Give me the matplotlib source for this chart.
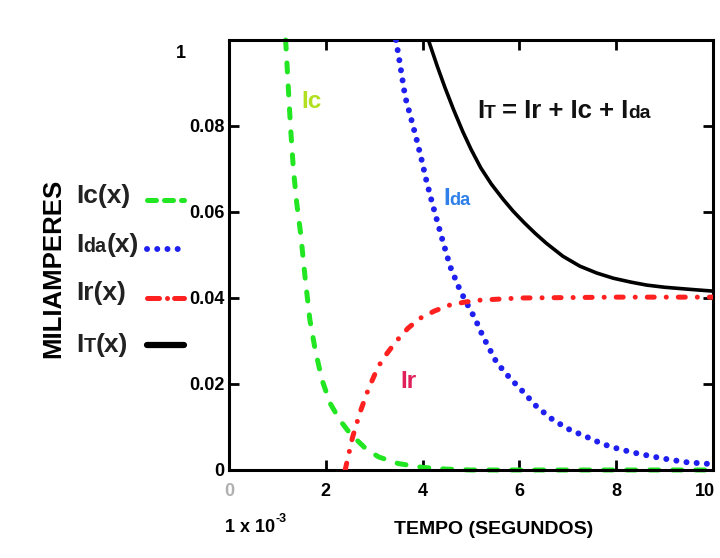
import matplotlib
matplotlib.use("Agg")
import matplotlib.pyplot as plt
import matplotlib.transforms as mtransforms
from matplotlib.lines import Line2D

plt.rcParams['font.family'] = ['Liberation Sans', 'DejaVu Sans']
plt.rcParams['font.weight'] = 'bold'

# ---- data (tempo in ms, corrente in mA) ----
ic_t = [1.17, 1.22, 1.27, 1.33, 1.40, 1.48, 1.57, 1.67, 1.78, 1.92, 2.09, 2.29,
        2.50, 2.85, 3.10, 3.50, 4.00, 4.50, 5.00, 10.0]
ic_v = [0.100, 0.090, 0.080, 0.070, 0.062, 0.055, 0.045, 0.035, 0.028, 0.021, 0.0155, 0.0116,
        0.0085, 0.0047, 0.0030, 0.0015, 0.0006, 0.0002, 0.0, 0.0]

ida_t = [3.45, 3.53, 3.64, 3.77, 3.88, 3.98, 4.08, 4.20, 4.39, 4.57, 4.77, 4.91, 5.08,
         5.25, 5.53, 5.81, 6.01, 6.36, 6.70, 7.05, 7.39, 7.73, 8.08, 8.42, 8.77,
         9.11, 9.46, 9.94]
ida_v = [0.100, 0.0946, 0.0868, 0.0814, 0.0767, 0.0721, 0.0672, 0.0620, 0.0543, 0.0473, 0.0419,
         0.0388, 0.0353, 0.0310, 0.0250, 0.0213, 0.0190, 0.0147, 0.0116, 0.0093, 0.0077,
         0.0060, 0.0048, 0.0039, 0.0031, 0.0024, 0.0018, 0.0014]

ir_t = [2.40, 2.46, 2.55, 2.71, 2.88, 3.08, 3.27, 3.46, 3.70, 3.95, 4.25, 4.57, 4.90,
        5.19, 6.0, 7.0, 8.0, 10.0]
ir_v = [0.0, 0.003, 0.0075, 0.0135, 0.0188, 0.0240, 0.0272, 0.0300, 0.0330, 0.0353, 0.0370,
        0.0384, 0.0391, 0.0395, 0.0400, 0.0401, 0.0402, 0.0402]

it_t = [4.12, 4.30, 4.46, 4.64, 4.83, 5.00, 5.20, 5.42, 5.66, 5.87, 6.10, 6.33, 6.56,
        6.90, 7.25, 7.60, 7.94, 8.30, 8.63, 9.00, 9.32, 9.65, 10.0]
it_v = [0.100, 0.0940, 0.0890, 0.0838, 0.0787, 0.0746, 0.0703, 0.0665, 0.0630, 0.0602,
        0.0575, 0.0550, 0.0527, 0.0497, 0.0474, 0.0458, 0.0446, 0.0437, 0.0430, 0.0425,
        0.0422, 0.0419, 0.0416]

x_ticks = [0, 2, 4, 6, 8, 10]
x_labels = ["0", "2", "4", "6", "8", "10"]
y_ticks = [0, 0.02, 0.04, 0.06, 0.08]
y_labels = ["0", "0.02", "0.04", "0.06", "0.08"]

green = '#22e622'
blue = '#1f1ff0'
red = '#ff2020'

fig = plt.figure(figsize=(7.2, 5.58), dpi=100)
fig.patch.set_facecolor('white')
W, H = 720.0, 558.0
ax = fig.add_axes([229 / W, 1 - 470 / H, (713 - 229) / W, (470 - 40) / H])

ax.plot(ic_t, ic_v, color=green, lw=3.6, linestyle=(0, (1.8, 2.8)),
        dash_capstyle='round', clip_on=False, zorder=2)
ax.plot(ida_t, ida_v, color=blue, lw=4.3, linestyle=(0, (0.01, 1.7)),
        dash_capstyle='round', zorder=3)
ax.plot(ir_t, ir_v, color=red, lw=3.6, linestyle=(0, (1.4, 2.4, 0.01, 2.4)),
        dash_capstyle='round', zorder=3)
ax.plot(it_t, it_v, color='black', lw=2.6, zorder=3)

ax.set_xlim(0, 10)
ax.set_ylim(0, 0.1)
ax.set_xticks(x_ticks)
ax.set_xticklabels(x_labels)
ax.set_yticks(y_ticks)
ax.set_yticklabels(y_labels)
ax.tick_params(direction='in', length=7, width=2, top=True, right=True,
               labelsize=13, colors='black')
ax.tick_params(axis='x', pad=9)
ax.tick_params(axis='y', pad=3)
xl = ax.get_xticklabels()
xl[0].set_color('#b0b0b0')
# the "10" sits right on the edge of the image, nudge it in a bit
xl[-1].set_transform(xl[-1].get_transform() +
                     mtransforms.ScaledTranslation(-6 / 72, 0, fig.dpi_scale_trans))
for s in ax.spines.values():
    s.set_linewidth(2.2)

renderer = fig.canvas.get_renderer()


def px(x, y):
    return x / W, 1 - y / H


def rich(x, y, parts, size, color):
    # parts = [(text, scale, gap_px), ...], all on one baseline at pixel y
    for s, k, gap in parts:
        x += gap
        t = fig.text(*px(x, y), s, fontsize=size * k, color=color,
                     fontweight='bold', va='baseline', ha='left')
        x += t.get_window_extent(renderer).width


# tick label "1" at the top of the y axis
fig.text(*px(181, 53), "1", fontsize=13, ha='center', va='center')

# axis titles
fig.text(*px(53, 268), "MILIAMPERES", rotation=90, fontsize=18.5,
         ha='center', va='center')
fig.text(*px(494, 530), "TEMPO (SEGUNDOS)", fontsize=14, ha='center', va='center')
t10 = fig.text(*px(225, 528), "1 x 10", fontsize=13, ha='left', va='center')
ax.annotate("-3", xy=(1, 1), xycoords=t10, va='center', ha='left', fontsize=9,
            annotation_clip=False)

# legend on the left
dark = '#222222'
rich(76, 203, [("Ic(x)", 1, 0)], 19, dark)
rich(76, 252, [("I", 1, 0), ("da", 0.75, 0), ("(x)", 1, 0)], 19, dark)
rich(76, 300, [("Ir(x)", 1, 0)], 19, dark)
rich(76, 352, [("I", 1, 0), ("T", 0.75, 0), ("(x)", 1, 0)], 19, dark)


def legline(y, **kw):
    x0, yy = px(147, y)
    x1, _ = px(184, y)
    fig.add_artist(Line2D([x0, x1], [yy, yy], transform=fig.transFigure, **kw))


legline(200, color=green, lw=3.6, linestyle=(0, (1.8, 1.6)), dash_capstyle='round')
legline(249, color=blue, lw=4.3, linestyle=(0, (0.01, 1.7)), dash_capstyle='round')
legline(298, color=red, lw=3.6, linestyle=(0, (2.4, 1.6, 0.01, 1.4)), dash_capstyle='round')
legline(345, color='black', lw=4.5, solid_capstyle='round')

# curve annotations
rich(301, 108, [("Ic", 1, 0)], 17.5, '#b0e020')
rich(443, 205, [("I", 1, 0), ("da", 0.75, 0)], 17.5, '#2f80e8')
rich(400, 388, [("Ir", 1, 0)], 17.5, '#e0205a')
rich(477, 118, [("I", 1, 0), ("T", 0.75, 0), ("= Ir + Ic + I", 1, 6), ("da", 0.75, 0)],
     18.5, '#111111')

fig.savefig("out.png", dpi=100, facecolor='white')
